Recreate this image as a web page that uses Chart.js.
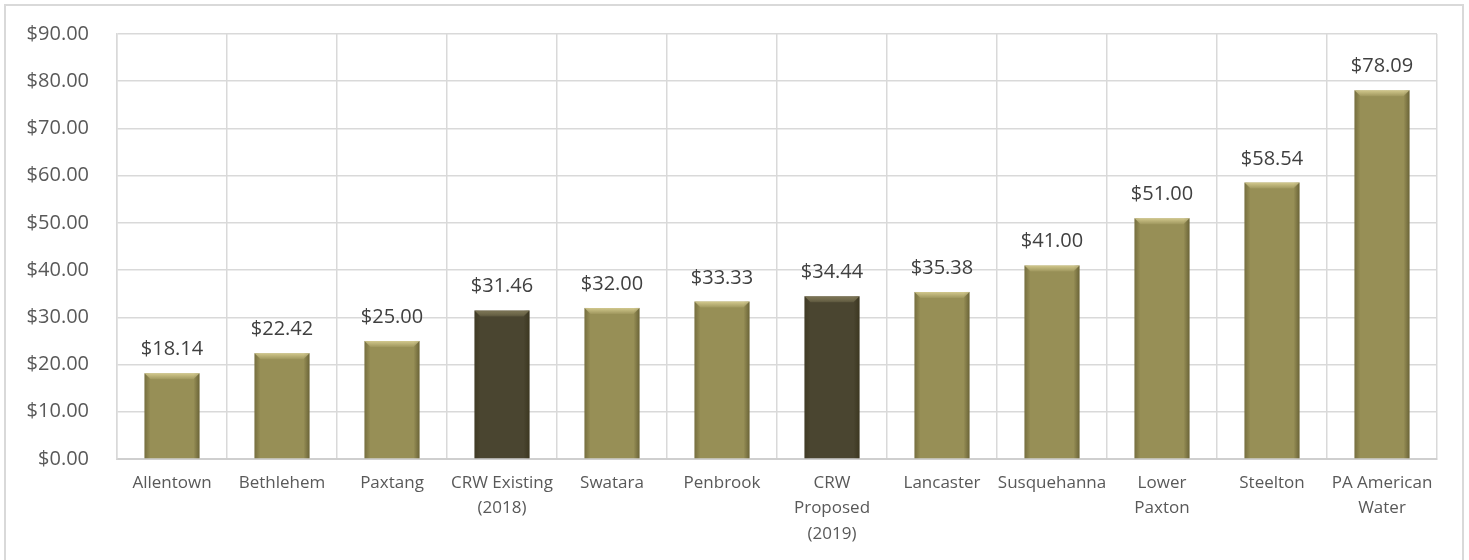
<!DOCTYPE html>
<html>
<head>
<meta charset="utf-8">
<script src="https://cdn.jsdelivr.net/npm/chart.js@4"></script>
<style>
  html, body { margin: 0; padding: 0; background: #fff; }
  #wrap { position: relative; width: 1469px; height: 560px; }
</style>
</head>
<body>
<div id="wrap"><canvas id="rateChart" width="1469" height="560"></canvas></div>
<script>
// ========================================
// DATA
// ========================================
const categories = [
    'Allentown', 'Bethlehem', 'Paxtang', ['CRW Existing', '(2018)'], 'Swatara', 'Penbrook',
    ['CRW', 'Proposed', '(2019)'], 'Lancaster', 'Susquehanna', ['Lower', 'Paxton'], 'Steelton',
    ['PA American', 'Water']
];
const rates = [18.14, 22.42, 25.00, 31.46, 32.00, 33.33, 34.44, 35.38, 41.00, 51.00, 58.54, 78.09];
// CRW bars are highlighted in the dark shade
const highlighted = [false, false, false, true, false, false, true, false, false, false, false, false];
const yTicks = [0, 10, 20, 30, 40, 50, 60, 70, 80, 90];

const GOLD = '#978f56';
const DARK = '#4a4530';
const GRID = '#d9d9d9';

// ========================================
// PLUGINS
// ========================================
// outer frame around the whole chart
const framePlugin = {
    id: 'frame',
    beforeDraw(chart) {
        const ctx = chart.ctx;
        ctx.save();
        ctx.fillStyle = '#fff';
        ctx.fillRect(0, 0, chart.width, chart.height);
        ctx.strokeStyle = GRID;
        ctx.lineWidth = 2;
        ctx.strokeRect(5, 5, 1458, 570);
        ctx.restore();
    }
};

// bevel shading on the bars + value labels above them
const barDecor = {
    id: 'barDecor',
    afterDatasetsDraw(chart) {
        const ctx = chart.ctx;
        const meta = chart.getDatasetMeta(0);
        ctx.save();
        meta.data.forEach((bar, i) => {
            const left = bar.x - bar.width / 2;
            const right = bar.x + bar.width / 2;
            const top = bar.y;
            const bottom = bar.base;
            const edge = 6;

            // side shading
            let g = ctx.createLinearGradient(left, 0, left + edge, 0);
            g.addColorStop(0, 'rgba(40,35,10,0.3)');
            g.addColorStop(1, 'rgba(40,35,10,0)');
            ctx.fillStyle = g;
            ctx.fillRect(left, top, edge, bottom - top);

            g = ctx.createLinearGradient(right - edge, 0, right, 0);
            g.addColorStop(0, 'rgba(40,35,10,0)');
            g.addColorStop(1, 'rgba(40,35,10,0.4)');
            ctx.fillStyle = g;
            ctx.fillRect(right - edge, top, edge, bottom - top);

            // top bevel highlight
            g = ctx.createLinearGradient(0, top, 0, top + edge);
            g.addColorStop(0, highlighted[i] ? 'rgba(170,160,120,0.5)' : 'rgba(235,225,165,0.7)');
            g.addColorStop(1, 'rgba(235,225,165,0.1)');
            ctx.beginPath();
            ctx.moveTo(left, top);
            ctx.lineTo(right, top);
            ctx.lineTo(right - edge, top + edge);
            ctx.lineTo(left + edge, top + edge);
            ctx.closePath();
            ctx.fillStyle = g;
            ctx.fill();

            // value label
            ctx.fillStyle = '#404040';
            ctx.font = '20px "Open Sans"';
            ctx.textAlign = 'center';
            ctx.textBaseline = 'alphabetic';
            ctx.fillText('$' + rates[i].toFixed(2), bar.x, top - 18);
        });
        ctx.restore();
    }
};

// ========================================
// CHART
// ========================================
new Chart(document.getElementById('rateChart'), {
    type: 'bar',
    data: {
        labels: categories,
        datasets: [{
            data: rates,
            backgroundColor: highlighted.map(h => h ? DARK : GOLD),
            borderWidth: 0,
            barPercentage: 0.5,
            categoryPercentage: 1.0
        }]
    },
    options: {
        responsive: false,
        animation: false,
        layout: {
            padding: { left: 0, right: 32, top: 34, bottom: 0 }
        },
        plugins: {
            legend: { display: false },
            tooltip: { enabled: false }
        },
        scales: {
            x: {
                grid: { color: GRID, lineWidth: 1.5, offset: true, drawTicks: false },
                border: { color: '#cfcfcf', width: 2 },
                ticks: {
                    color: '#595959',
                    font: { family: 'Open Sans', size: 17, lineHeight: 1.5 },
                    padding: 11,
                    maxRotation: 0,
                    autoSkip: false
                },
                afterFit(scale) { scale.height = 101; }
            },
            y: {
                min: 0,
                max: 90,
                afterBuildTicks(scale) { scale.ticks = yTicks.map(v => ({ value: v })); },
                grid: { color: GRID, lineWidth: 1.5, drawTicks: false },
                border: { color: GRID, width: 1.5 },
                ticks: {
                    color: '#595959',
                    font: { family: 'Open Sans', size: 20 },
                    padding: 28,
                    callback: v => '$' + v.toFixed(2)
                },
                afterFit(scale) {
                    scale.width = 117;
                    // label padding should not push the plot area down
                    scale.paddingTop = 12;
                    scale.paddingBottom = 12;
                }
            }
        }
    },
    plugins: [framePlugin, barDecor]
});
</script>
</body>
</html>
